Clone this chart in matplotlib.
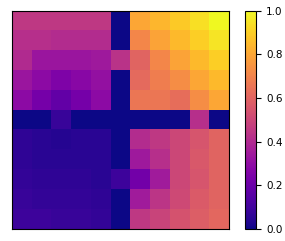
import numpy as np
import matplotlib
matplotlib.use("Agg")
import matplotlib.pyplot as plt

# values, row by row (top row first)
row_00 = [0.45, 0.45, 0.45, 0.45, 0.45, 0.00, 0.80, 0.84, 0.89, 0.94, 1.00]
row_01 = [0.42, 0.42, 0.41, 0.41, 0.41, 0.00, 0.71, 0.79, 0.85, 0.90, 0.95]
row_02 = [0.40, 0.33, 0.33, 0.33, 0.34, 0.43, 0.60, 0.71, 0.79, 0.85, 0.90]
row_03 = [0.33, 0.29, 0.25, 0.28, 0.31, 0.00, 0.62, 0.68, 0.73, 0.80, 0.85]
row_04 = [0.29, 0.23, 0.18, 0.23, 0.29, 0.00, 0.66, 0.66, 0.63, 0.73, 0.80]
row_05 = [0.00, 0.00, 0.08, 0.00, 0.00, 0.00, 0.00, 0.00, 0.00, 0.42, 0.00]
row_06 = [0.06, 0.05, 0.04, 0.05, 0.05, 0.00, 0.41, 0.45, 0.50, 0.55, 0.60]
row_07 = [0.06, 0.05, 0.05, 0.05, 0.05, 0.00, 0.34, 0.42, 0.50, 0.56, 0.60]
row_08 = [0.07, 0.06, 0.06, 0.06, 0.05, 0.09, 0.22, 0.35, 0.50, 0.55, 0.60]
row_09 = [0.08, 0.07, 0.07, 0.07, 0.06, 0.00, 0.35, 0.44, 0.51, 0.57, 0.60]
row_10 = [0.09, 0.09, 0.08, 0.08, 0.07, 0.00, 0.45, 0.49, 0.54, 0.58, 0.61]

macierz = np.array([row_00, row_01, row_02, row_03, row_04, row_05,
                    row_06, row_07, row_08, row_09, row_10])

fig = plt.figure(figsize=(2.85, 2.41), dpi=100)
ax = fig.add_axes([0.042, 0.05, 0.761, 0.905])
obraz = ax.imshow(macierz, cmap="plasma", vmin=0, vmax=1, aspect="auto",
                  interpolation="nearest")
ax.set_xticks([])
ax.set_yticks([])

cax = fig.add_axes([0.86, 0.05, 0.039, 0.905])
cb = fig.colorbar(obraz, cax=cax)
cb.set_ticks([0.0, 0.2, 0.4, 0.6, 0.8, 1.0])
cb.ax.tick_params(labelsize=7.5)

fig.savefig("out.png", dpi=100)
